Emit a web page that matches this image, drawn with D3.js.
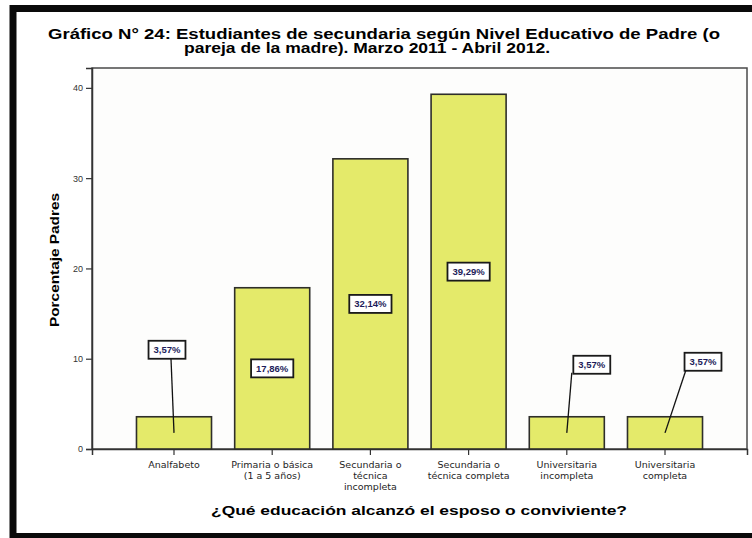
<!DOCTYPE html>
<html>
<head>
<meta charset="utf-8">
<script src="https://cdn.jsdelivr.net/npm/d3@7"></script>
<style>
  body { margin: 0; background: #fff; }
  svg { display: block; }
</style>
</head>
<body>
<div id="chart"></div>
<script>
// datos del grafico
var categorias = [
  ["Analfabeto"],
  ["Primaria o básica", "(1 a 5 años)"],
  ["Secundaria o", "técnica", "incompleta"],
  ["Secundaria o", "técnica completa"],
  ["Universitaria", "incompleta"],
  ["Universitaria", "completa"]
];
var porcentajes = [3.57, 17.86, 32.14, 39.29, 3.57, 3.57];
var etiquetas = ["3,57%", "17,86%", "32,14%", "39,29%", "3,57%", "3,57%"];
var ticksY = [0, 10, 20, 30, 40];

var width = 752,
    height = 538;
var plot = {left: 92, right: 747, top: 68, bottom: 449};

// etiquetas fuera de barra (barras pequeñas): desplazamientos en px
var llamadas = {
  0: {dx: -7, dy: -67, lx: 4, ly: 9},
  4: {dx: 25, dy: -52, lx: -20, ly: 8},
  5: {dx: 38, dy: -55, lx: -17, ly: 8}
};

var svg = d3.select("#chart").append("svg")
    .attr("width", width)
    .attr("height", height);

svg.append("rect")
    .attr("width", width).attr("height", height)
    .attr("fill", "#fff");

// marco negro exterior
svg.append("rect")
    .attr("x", 13).attr("y", 8.5)
    .attr("width", 800).attr("height", 528)
    .attr("fill", "none")
    .attr("stroke", "#0a0a0a")
    .attr("stroke-width", 7);

// titulo
svg.append("text")
    .attr("x", 384).attr("y", 38.5)
    .attr("text-anchor", "middle")
    .attr("textLength", 672).attr("lengthAdjust", "spacingAndGlyphs")
    .style("font", "bold 14px 'Liberation Sans', Arial, sans-serif")
    .text("Gráfico N° 24: Estudiantes de secundaria según Nivel Educativo de Padre (o");
svg.append("text")
    .attr("x", 367).attr("y", 53)
    .attr("text-anchor", "middle")
    .attr("textLength", 366).attr("lengthAdjust", "spacingAndGlyphs")
    .style("font", "bold 14px 'Liberation Sans', Arial, sans-serif")
    .text("pareja de la madre). Marzo 2011 - Abril 2012.");

var x = d3.scaleBand()
    .domain(d3.range(porcentajes.length))
    .range([plot.left, plot.right])
    .paddingInner(0.236)
    .paddingOuter(0.453);

var y = d3.scaleLinear()
    .domain([0, 42.2])
    .range([plot.bottom, plot.top]);

// area del grafico
svg.append("rect")
    .attr("x", plot.left).attr("y", plot.top)
    .attr("width", plot.right - plot.left)
    .attr("height", plot.bottom - plot.top)
    .attr("fill", "#fdfdfc")
    .attr("stroke", "#4a4a4a")
    .attr("stroke-width", 1.5);

// eje Y
var ejeY = svg.append("g")
    .attr("transform", "translate(" + plot.left + ",0)")
    .call(d3.axisLeft(y).tickValues(ticksY).tickSize(6).tickPadding(3).tickFormat(d3.format("d")));
ejeY.select(".domain").attr("stroke", "#333").attr("stroke-width", 1.5);
ejeY.selectAll(".tick line").attr("stroke", "#333").attr("stroke-width", 1.2);
ejeY.selectAll(".tick text")
    .style("font", "9px 'Liberation Sans', Arial, sans-serif")
    .attr("fill", "#333");

// eje X
var ejeX = svg.append("g")
    .attr("transform", "translate(0," + plot.bottom + ")")
    .call(d3.axisBottom(x).tickSize(6).tickFormat(""));
ejeX.select(".domain").attr("stroke", "#333").attr("stroke-width", 1.5);
ejeX.selectAll(".tick line").attr("stroke", "#333").attr("stroke-width", 1.2);

ejeX.selectAll(".tick").each(function(d) {
  var t = d3.select(this).append("text")
      .attr("fill", "#1e1e1e")
      .attr("text-anchor", "middle")
      .style("font", "9.5px 'DejaVu Sans', sans-serif");
  categorias[d].forEach(function(linea, i) {
    t.append("tspan").attr("x", 0).attr("y", 19 + i * 11).text(linea);
  });
});

// barras
svg.selectAll(".barra")
    .data(porcentajes)
  .enter().append("rect")
    .attr("class", "barra")
    .attr("x", function(d, i) { return x(i); })
    .attr("y", function(d) { return y(d); })
    .attr("width", x.bandwidth())
    .attr("height", function(d) { return y(0) - y(d); })
    .attr("fill", "#e4ea6a")
    .attr("stroke", "#2e2e2a")
    .attr("stroke-width", 1.6);

// etiquetas de valor
var g = svg.selectAll(".etiqueta")
    .data(porcentajes)
  .enter().append("g")
    .attr("class", "etiqueta");

g.each(function(d, i) {
  var el = d3.select(this);
  var cx = x(i) + x.bandwidth() / 2;
  var cy = y(d / 2);
  var c = llamadas[i];
  var bx = cx, by = cy;
  if (c) {
    bx = cx + c.dx;
    by = y(d) + c.dy;
    el.append("line")
        .attr("x1", bx + c.lx).attr("y1", by + c.ly)
        .attr("x2", cx).attr("y2", cy)
        .attr("stroke", "#111").attr("stroke-width", 1.3);
  }
  var txt = el.append("text")
      .attr("x", bx).attr("y", by + 3.5)
      .attr("text-anchor", "middle")
      .attr("fill", "#1c1c5a")
      .style("font", "bold 9.5px 'Liberation Sans', Arial, sans-serif")
      .text(etiquetas[i]);
  var w = txt.node().getComputedTextLength() + 10;
  el.insert("rect", "text")
      .attr("x", bx - w / 2).attr("y", by - 9)
      .attr("width", w).attr("height", 18)
      .attr("fill", "#fff")
      .attr("stroke", "#1a1a1a")
      .attr("stroke-width", 1.8);
});

// titulos de ejes
svg.append("text")
    .attr("transform", "translate(59,260) rotate(-90)")
    .attr("text-anchor", "middle")
    .attr("textLength", 134).attr("lengthAdjust", "spacingAndGlyphs")
    .style("font", "bold 13px 'Liberation Sans', Arial, sans-serif")
    .text("Porcentaje Padres");

svg.append("text")
    .attr("x", 419).attr("y", 515)
    .attr("text-anchor", "middle")
    .attr("textLength", 416).attr("lengthAdjust", "spacingAndGlyphs")
    .style("font", "bold 13px 'Liberation Sans', Arial, sans-serif")
    .text("¿Qué educación alcanzó el esposo o conviviente?");
</script>
</body>
</html>
